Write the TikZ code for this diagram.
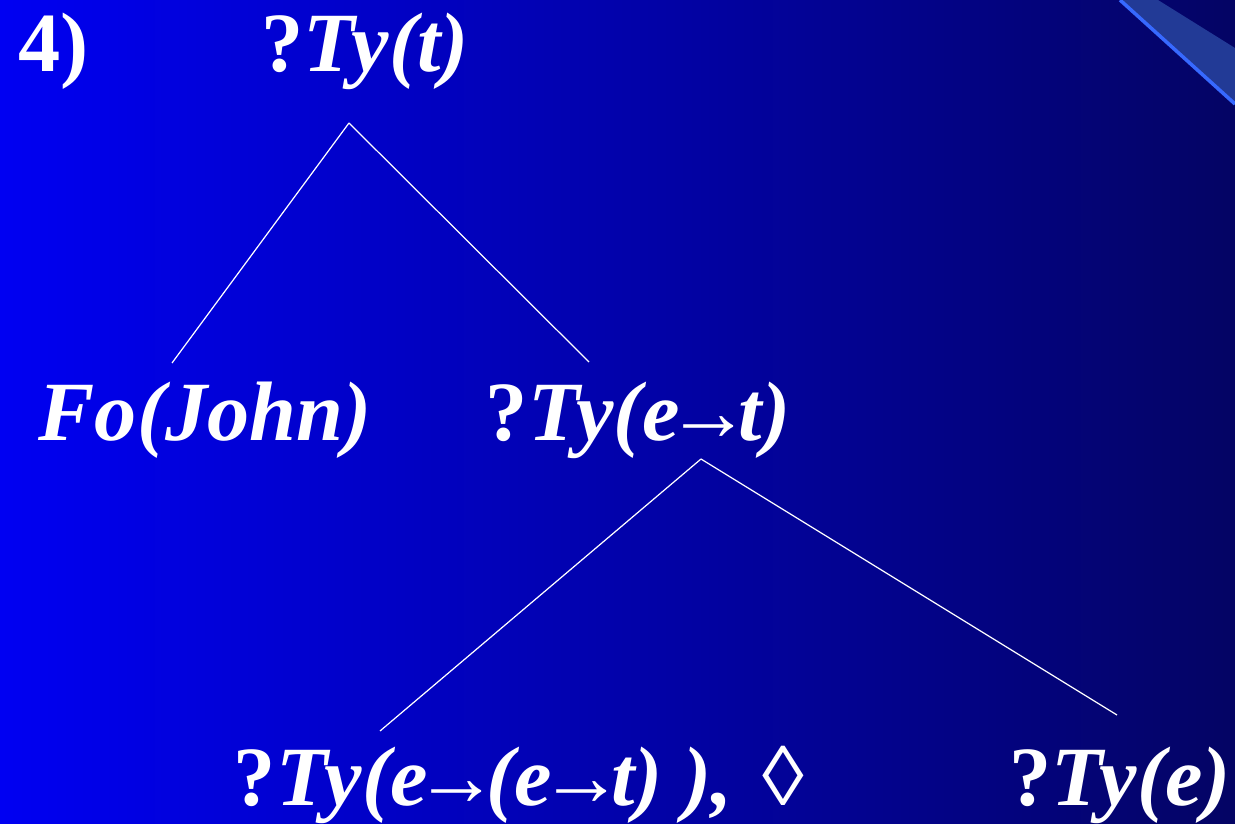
\documentclass[tikz,border=0pt]{standalone}
\usepackage{fontspec}
\setmainfont{Liberation Serif}
\usetikzlibrary{calc}

\definecolor{bgleft}{RGB}{0,0,242}
\definecolor{bgright}{RGB}{4,4,100}
\definecolor{bandfill}{RGB}{34,58,150}
\definecolor{bandedge}{RGB}{55,105,255}

% Flèche serrée
\newcommand{\tarr}{\kern-.15em→\kern-.15em}

\begin{document}
\begin{tikzpicture}[
    x=0.02cm, y=-0.02cm,
    % Style pour les étiquettes de l'arbre
    lbl/.style={text=white, inner sep=0pt, anchor=base, font=\fontsize{48}{58}\selectfont\bfseries\itshape},
    % Style pour les branches
    branch/.style={draw=white, line width=0.7pt}
]
\useasboundingbox (0,0) rectangle (1235,824);

% Fond dégradé
\fill[left color=bgleft, right color=bgright] (0,0) rectangle (1235,824);
% Bande du coin haut droit
\fill[bandfill] (1120,0) -- (1158,0) -- (1235,48) -- (1235,104) -- cycle;
\draw[bandedge, line width=2pt] (1120,0) -- (1235,104);

% Numéro
\node[lbl, anchor=base west] (num) at (18,72) {\upshape 4)};

% Racine
\node[lbl] (root) at (365,72) {\upshape ?\itshape Ty(t)};

% Niveau 1
\node[lbl] (john) at (205,440) {Fo(John)};
\node[lbl] (pred) at (638,440) {\upshape ?\itshape Ty(e\tarr t)};

% Niveau 2
\node[lbl] (verb) at (519,805) {\upshape ?\itshape Ty(e\tarr(e\tarr t) ), \upshape\hspace{.1em}◊};
\node[lbl] (obj) at (1120,805) {\upshape ?\itshape Ty(e)};

% Branches
\draw[branch] ($(root.base)+(-16,51)$) -- ($(john.base)+(-33,-77)$);
\draw[branch] ($(root.base)+(-16,51)$) -- ($(pred.base)+(-49,-78)$);
\draw[branch] ($(pred.base)+(63,19)$) -- ($(verb.base)+(-139,-74)$);
\draw[branch] ($(pred.base)+(63,19)$) -- ($(obj.base)+(-3,-90)$);

\end{tikzpicture}
\end{document}
